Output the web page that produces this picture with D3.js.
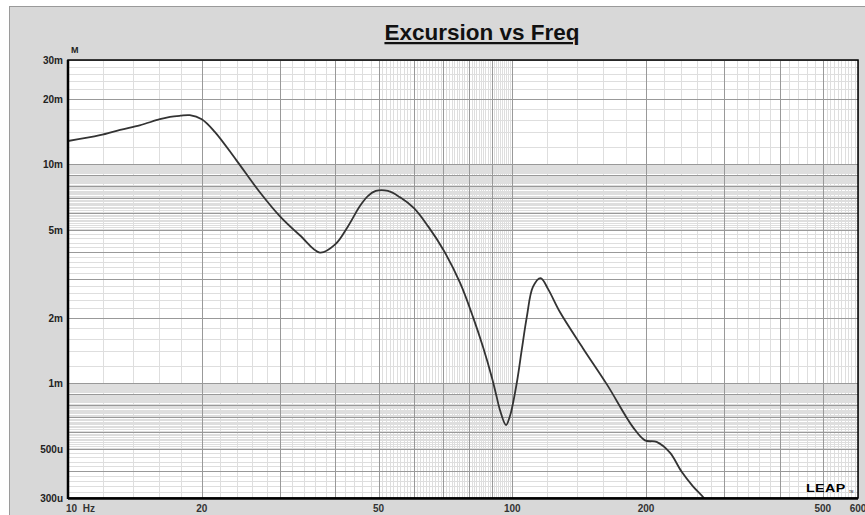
<!DOCTYPE html>
<html>
<head>
<meta charset="utf-8">
<script src="https://cdn.jsdelivr.net/npm/d3@7"></script>
<style>
body{margin:0;background:#fff}
svg{display:block}
text{font-family:Arial,"Liberation Sans",sans-serif}
</style>
</head>
<body>
<svg id="chart" width="865" height="515"></svg>
<script>
// excursion curve (Hz, metres)
var freq = [10, 11.8, 13.1, 14.5, 16.1, 16.97, 17.9, 18.8, 20, 21.4, 23.9, 27, 30, 33.3, 36.9, 40, 42.7, 45.4, 47.3, 49.3, 52.5, 55.8, 60, 64.6, 70, 76.3, 81.6, 85.9, 89.9, 92.2, 93.8, 96.8, 98.8, 102.3, 105, 107.8, 111.3, 115.8, 120.5, 128, 144.2, 163.4, 186.9, 198.9, 211.3, 226.4, 240.6, 255.1, 270, 285];
var excursion = [0.0128, 0.0136, 0.0144, 0.0151, 0.0161, 0.0165, 0.0167, 0.0168, 0.0161, 0.0141, 0.0105, 0.00749, 0.00580, 0.00474, 0.00396, 0.00433, 0.00523, 0.00646, 0.00717, 0.00757, 0.00757, 0.0071, 0.00633, 0.00523, 0.00407, 0.00288, 0.00201, 0.00147, 0.00107, 0.000871, 0.000757, 0.000646, 0.00071, 0.0010, 0.00142, 0.00201, 0.00276, 0.00303, 0.00269, 0.00212, 0.00145, 0.000988, 0.000632, 0.00055, 0.000541, 0.000483, 0.000395, 0.000339, 0.0003, 0.00026];

var xTicks = [10, 20, 50, 100, 200, 500, 600];
var xTickLabels = ["10  Hz", "20", "50", "100", "200", "500", "600"];
var yTicks = [0.03, 0.02, 0.01, 0.005, 0.002, 0.001, 0.0005, 0.0003];
var yTickLabels = ["30m", "20m", "10m", "5m", "2m", "1m", "500u", "300u"];

var svg = d3.select("#chart");
var m = {left: 68, right: 858, top: 60, bottom: 498};

var x = d3.scaleLog().domain([10, 600]).range([m.left, m.right]);
var y = d3.scaleLog().domain([0.0003, 0.03]).range([m.bottom, m.top]);

// grey panel
svg.append("rect")
    .attr("x", 9.5).attr("y", 6.5)
    .attr("width", 870).attr("height", 520)
    .attr("fill", "#d8d8d8")
    .attr("stroke", "#9a9a9a");

// title
svg.append("text")
    .attr("x", 482).attr("y", 40)
    .attr("text-anchor", "middle")
    .attr("font-size", 22.5).attr("font-weight", "bold")
    .attr("text-decoration", "underline")
    .attr("fill", "#111")
    .text("Excursion vs Freq");

svg.append("rect")
    .attr("x", m.left).attr("y", m.top)
    .attr("width", m.right - m.left).attr("height", m.bottom - m.top)
    .attr("fill", "#fff");

// grid values: majors at n*10^k, minors every 0.2 below 5 and 0.1 above
function gridVals(lo, hi) {
    var major = [], minor = [];
    for (var d = Math.pow(10, Math.floor(Math.log10(lo))); d < hi; d *= 10) {
        for (var k = 10; k < 100; k++) {
            var v = k / 10 * d;
            if (v < lo * 0.9999 || v > hi * 1.0001) continue;
            if (k % 10 == 0) major.push(v);
            else if (k < 50 && k % 2 == 1) continue;
            else minor.push(v);
        }
    }
    return {major: major, minor: minor};
}

var gx = gridVals(10, 600);
var gy = gridVals(0.0003, 0.03);

var grid = svg.append("g").attr("shape-rendering", "crispEdges");

grid.selectAll(".xminor").data(gx.minor).enter().append("line")
    .attr("x1", function(d){ return Math.round(x(d)) + 0.5; })
    .attr("x2", function(d){ return Math.round(x(d)) + 0.5; })
    .attr("y1", m.top).attr("y2", m.bottom)
    .attr("stroke", "#dedede");
grid.selectAll(".yminor").data(gy.minor).enter().append("line")
    .attr("y1", function(d){ return Math.round(y(d)) + 0.5; })
    .attr("y2", function(d){ return Math.round(y(d)) + 0.5; })
    .attr("x1", m.left).attr("x2", m.right)
    .attr("stroke", "#dedede");
grid.selectAll(".xmajor").data(gx.major).enter().append("line")
    .attr("x1", function(d){ return Math.round(x(d)) + 0.5; })
    .attr("x2", function(d){ return Math.round(x(d)) + 0.5; })
    .attr("y1", m.top).attr("y2", m.bottom)
    .attr("stroke", "#999");
grid.selectAll(".ymajor").data(gy.major).enter().append("line")
    .attr("y1", function(d){ return Math.round(y(d)) + 0.5; })
    .attr("y2", function(d){ return Math.round(y(d)) + 0.5; })
    .attr("x1", m.left).attr("x2", m.right)
    .attr("stroke", "#999");

// curve
svg.append("clipPath").attr("id", "clip").append("rect")
    .attr("x", m.left).attr("y", m.top)
    .attr("width", m.right - m.left).attr("height", m.bottom - m.top);

var line = d3.line()
    .x(function(d){ return x(d[0]); })
    .y(function(d){ return y(d[1]); })
    .curve(d3.curveCatmullRom.alpha(0.5));

svg.append("path")
    .datum(d3.zip(freq, excursion))
    .attr("clip-path", "url(#clip)")
    .attr("d", line)
    .attr("fill", "none")
    .attr("stroke", "#333")
    .attr("stroke-width", 1.8);

// frame
svg.append("rect")
    .attr("x", m.left).attr("y", m.top)
    .attr("width", m.right - m.left).attr("height", m.bottom - m.top)
    .attr("fill", "none").attr("stroke", "#000").attr("stroke-width", 1.5);
svg.append("line")
    .attr("x1", m.left).attr("x2", m.left).attr("y1", m.top).attr("y2", m.bottom + 1)
    .attr("stroke", "#000").attr("stroke-width", 2.5);
svg.append("line")
    .attr("x1", m.left).attr("x2", m.right).attr("y1", m.bottom + 0.5).attr("y2", m.bottom + 0.5)
    .attr("stroke", "#000").attr("stroke-width", 2.5);

// axis labels
svg.selectAll(".ylab").data(yTicks).enter().append("text")
    .attr("x", 63)
    .attr("y", function(d){ return y(d) + 4; })
    .attr("text-anchor", "end")
    .attr("font-size", 10).attr("font-weight", "bold")
    .attr("fill", "#222")
    .text(function(d, i){ return yTickLabels[i]; });

svg.append("text")
    .attr("x", 71).attr("y", 53)
    .attr("font-size", 9).attr("font-weight", "bold")
    .attr("fill", "#222")
    .text("M");

svg.selectAll(".xlab").data(xTicks).enter().append("text")
    .attr("x", function(d, i){ return i == 0 ? x(d) - 2 : x(d); })
    .attr("y", 512)
    .attr("text-anchor", function(d, i){ return i == 0 ? "start" : "middle"; })
    .attr("font-size", 10).attr("font-weight", "bold")
    .attr("fill", "#333")
    .style("white-space", "pre")
    .text(function(d, i){ return xTickLabels[i]; });

// LEAP mark
svg.append("text")
    .attr("x", 0).attr("y", 0)
    .attr("transform", "translate(806,492) scale(1.3,1)")
    .attr("font-size", 11).attr("font-weight", "900")
    .attr("letter-spacing", 0.3)
    .attr("fill", "#000")
    .text("LEAP");
svg.append("text")
    .attr("x", 849).attr("y", 493)
    .attr("font-size", 3)
    .attr("fill", "#000")
    .text("TM");
</script>
</body>
</html>
